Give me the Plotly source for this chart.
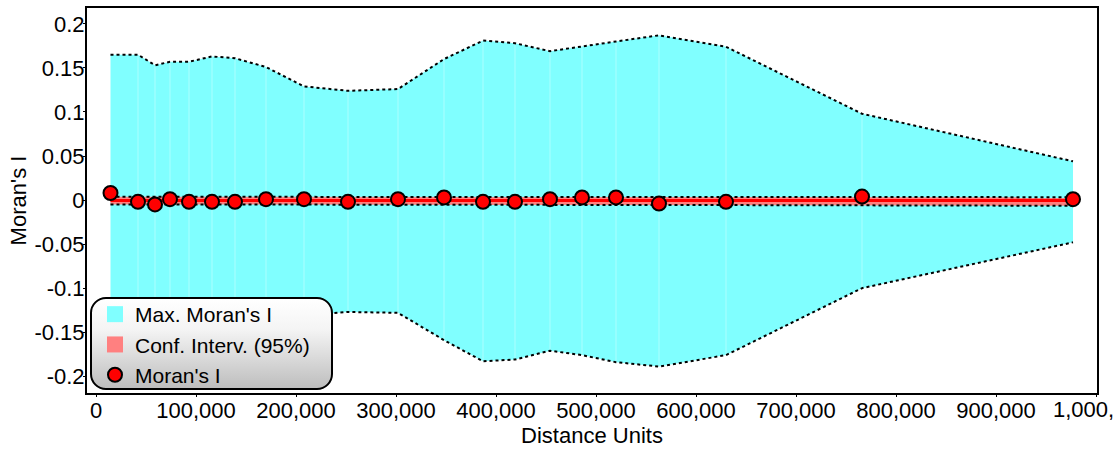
import base64
import plotly.graph_objects as go

# ---- data ----
distance = [14500, 42000, 59000, 74000, 93000, 116000, 139000, 170000, 208000,
            252000, 302000, 348000, 387000, 419000, 454000, 486000, 520000,
            563000, 630000, 766000, 977000]
morans_i = [0.008, -0.002, -0.005, 0.001, -0.002, -0.002, -0.002, 0.001, 0.001,
            -0.002, 0.001, 0.003, -0.002, -0.002, 0.001, 0.003, 0.003,
            -0.004, -0.002, 0.004, 0.001]
max_upper = [0.165, 0.165, 0.153, 0.157, 0.157, 0.163, 0.161, 0.151, 0.129,
             0.124, 0.126, 0.160, 0.181, 0.178, 0.169, 0.174, 0.180,
             0.187, 0.174, 0.098, 0.044]
max_lower = [-0.167, -0.167, -0.155, -0.159, -0.159, -0.165, -0.163, -0.153, -0.131,
             -0.127, -0.128, -0.159, -0.183, -0.181, -0.171, -0.176, -0.184,
             -0.189, -0.176, -0.100, -0.048]
conf_upper = [0.0037, 0.0037, 0.0037, 0.0037, 0.0037, 0.0037, 0.0037, 0.0037, 0.0037,
              0.0036, 0.0036, 0.0036, 0.0036, 0.0036, 0.0035, 0.0035, 0.0035,
              0.0035, 0.0034, 0.0034, 0.0033]
conf_lower = [-0.0049, -0.0049, -0.0050, -0.0050, -0.0050, -0.0050, -0.0051, -0.0051, -0.0051,
              -0.0052, -0.0052, -0.0053, -0.0053, -0.0054, -0.0054, -0.0055, -0.0055,
              -0.0056, -0.0057, -0.0060, -0.0065]
expected_i = [-0.0005, -0.0005, -0.0005, -0.0005, -0.0005, -0.0005, -0.0005, -0.0005, -0.0005,
              -0.0005, -0.0005, -0.0005, -0.0005, -0.0005, -0.0005, -0.0005, -0.0005,
              -0.0005, -0.0005, -0.0005, -0.0005]

x_tickvals = [0, 100000, 200000, 300000, 400000, 500000, 600000, 700000, 800000, 900000, 1000000]
x_ticktext = ["0", "100,000", "200,000", "300,000", "400,000", "500,000", "600,000",
              "700,000", "800,000", "900,000", ""]
last_x_label = "1,000,"   # truncated in the reference
y_tickvals = [0.2, 0.15, 0.1, 0.05, 0, -0.05, -0.1, -0.15, -0.2]
y_ticktext = ["0.2", "0.15", "0.1", "0.05", "0", "-0.05", "-0.1", "-0.15", "-0.2"]

FONT = "Arial, Liberation Sans, sans-serif"
FS = 22

fig = go.Figure()

# Max Moran's I envelope (cyan)
fig.add_trace(go.Scatter(
    x=distance + distance[::-1], y=max_upper + max_lower[::-1],
    fill="toself", fillcolor="#80FFFF", mode="lines",
    line=dict(width=0, color="#80FFFF"), showlegend=False, hoverinfo="skip"))
# faint segment separators inside the envelope
sep_x, sep_y = [], []
for xv, lo, hi in zip(distance[1:-1], max_lower[1:-1], max_upper[1:-1]):
    sep_x += [xv, xv, None]
    sep_y += [lo, hi, None]
fig.add_trace(go.Scatter(x=sep_x, y=sep_y, mode="lines",
                         line=dict(color="rgba(255,255,255,0.35)", width=1),
                         showlegend=False, hoverinfo="skip"))
for band in (max_upper, max_lower):
    fig.add_trace(go.Scatter(x=distance, y=band, mode="lines",
                             line=dict(color="black", width=2, dash="dot"),
                             showlegend=False, hoverinfo="skip"))

# Confidence interval (pink)
fig.add_trace(go.Scatter(
    x=distance + distance[::-1], y=conf_upper + conf_lower[::-1],
    fill="toself", fillcolor="#FF8080", mode="lines",
    line=dict(width=0, color="#FF8080"), showlegend=False, hoverinfo="skip"))
fig.add_trace(go.Scatter(x=distance, y=expected_i, mode="lines",
                         line=dict(color="#FF0000", width=3),
                         showlegend=False, hoverinfo="skip"))
for band in (conf_upper, conf_lower):
    fig.add_trace(go.Scatter(x=distance, y=band, mode="lines",
                             line=dict(color="black", width=2, dash="dot"),
                             showlegend=False, hoverinfo="skip"))

# Moran's I points
fig.add_trace(go.Scatter(x=distance, y=morans_i, mode="markers", name="Moran's I",
                         showlegend=False,
                         marker=dict(symbol="circle", size=14, color="#FF0000",
                                     line=dict(color="black", width=2))))

# legend entries (square swatches like the reference)
fig.add_trace(go.Scatter(x=[None], y=[None], mode="markers", name="Max. Moran's I",
                         marker=dict(symbol="square", size=19, color="#80FFFF",
                                     line=dict(width=0))))
fig.add_trace(go.Scatter(x=[None], y=[None], mode="markers", name="Conf. Interv. (95%)",
                         marker=dict(symbol="square", size=19, color="#FF8080",
                                     line=dict(width=0))))
fig.add_trace(go.Scatter(x=[None], y=[None], mode="markers", name="Moran's I",
                         marker=dict(symbol="circle", size=14, color="#FF0000",
                                     line=dict(color="black", width=2))))

# rounded gradient box behind the legend
svg = ("<svg xmlns='http://www.w3.org/2000/svg' width='243' height='93' viewBox='0 0 243 93'>"
       "<defs><linearGradient id='g' x1='0' y1='0' x2='0' y2='1'>"
       "<stop offset='0' stop-color='#ffffff'/><stop offset='0.35' stop-color='#f4f4f4'/>"
       "<stop offset='1' stop-color='#bdbdbd'/></linearGradient></defs>"
       "<rect x='1' y='1' width='241' height='91' rx='15' ry='15' fill='url(#g)' "
       "stroke='black' stroke-width='2'/></svg>")
svg_uri = "data:image/svg+xml;base64," + base64.b64encode(svg.encode()).decode()

W, H = 1117, 452
ML, MR, MT, MB = 87, 20, 8, 59
PW, PH = W - ML - MR, H - MT - MB

def px_x(p):
    return (p - ML) / PW

def px_y(p):
    return (H - MB - p) / PH

fig.add_layout_image(dict(source=svg_uri, xref="paper", yref="paper",
                          x=px_x(90), y=px_y(297), sizex=243 / PW, sizey=93 / PH,
                          xanchor="left", yanchor="top", sizing="stretch",
                          layer="above"))

# truncated last tick label, placed at its tick
fig.add_annotation(x=x_tickvals[-1], xref="x", y=0, yref="paper",
                   text=last_x_label, showarrow=False,
                   xanchor="right", yanchor="top", xshift=20, yshift=-2,
                   font=dict(family=FONT, size=FS, color="black"))

fig.update_layout(
    width=W, height=H,
    margin=dict(l=ML, r=MR, t=MT, b=MB, pad=0, autoexpand=False),
    paper_bgcolor="white", plot_bgcolor="white",
    font=dict(family=FONT, size=FS, color="black"),
    showlegend=True,
    legend=dict(x=px_x(95), y=px_y(294), xanchor="left", yanchor="top",
                bgcolor="rgba(0,0,0,0)", borderwidth=0,
                font=dict(family=FONT, size=FS - 1, color="black"),
                tracegroupgap=0, itemwidth=30),
    xaxis=dict(range=[-9000, 1001000], tickvals=x_tickvals, ticktext=x_ticktext,
               showgrid=False, zeroline=False, showline=True, linecolor="black",
               linewidth=2, mirror=True, ticks="outside", ticklen=2,
               tickcolor="black", tickfont=dict(size=FS),
               ticklabelstandoff=-5, automargin=False,
               title=dict(text="Distance Units", font=dict(size=FS), standoff=2)),
    yaxis=dict(range=[-0.219, 0.218], tickvals=y_tickvals, ticktext=y_ticktext,
               showgrid=False, zeroline=False, showline=True, linecolor="black",
               linewidth=2, mirror=True, ticks="outside", ticklen=2,
               tickcolor="black", tickfont=dict(size=FS), ticklabelstandoff=-6,
               automargin=False,
               title=dict(text="Moran's I", font=dict(size=FS), standoff=2)),
)

fig.write_html("out.html")
